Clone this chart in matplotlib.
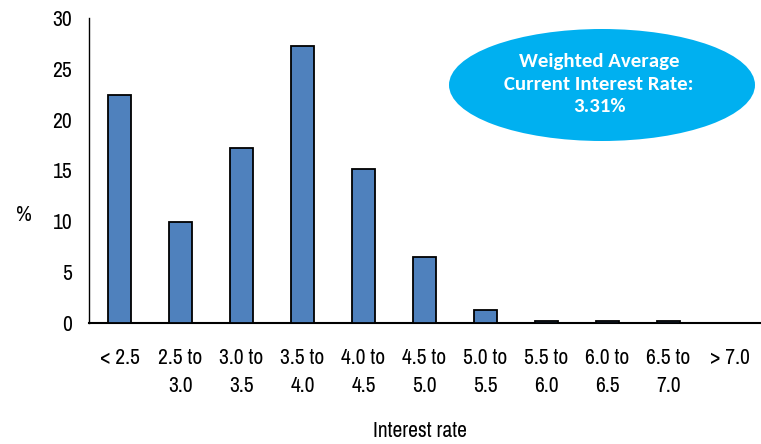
import matplotlib
matplotlib.use("Agg")
import matplotlib.pyplot as plt
from matplotlib.patches import Ellipse

categories = ["< 2.5", "2.5 to\n3.0", "3.0 to\n3.5", "3.5 to\n4.0", "4.0 to\n4.5",
              "4.5 to\n5.0", "5.0 to\n5.5", "5.5 to\n6.0", "6.0 to\n6.5", "6.5 to\n7.0", "> 7.0"]
shares = [22.4, 9.9, 17.2, 27.2, 15.1, 6.5, 1.3, 0.2, 0.2, 0.2, 0.0]
yticks = [0, 5, 10, 15, 20, 25, 30]
callout_lines = ["Weighted Average", "Current Interest Rate:", "3.31%"]

narrow = ["Archivo Narrow", "Liberation Sans"]
callout_font = ["Carlito", "Open Sans"]

fig = plt.figure(figsize=(7.61, 4.44), dpi=100)
ax = fig.add_axes([89 / 761, (444 - 323) / 444, (760 - 89) / 761, (323 - 18) / 444])

x = range(len(categories))
ax.bar(x, shares, width=0.38, color="#4F81BD", edgecolor="black", linewidth=1.3, zorder=3)

ax.set_xlim(-0.5, len(categories) - 0.5)
ax.set_ylim(0, 30)
ax.set_yticks(yticks)
ax.set_yticklabels([str(v) for v in yticks], fontfamily=narrow, fontsize=15.5)
ax.set_xticks(list(x))
ax.set_xticklabels(categories, fontfamily=narrow, fontsize=15.5, linespacing=1.5)
ax.tick_params(axis="both", length=0)
ax.tick_params(axis="x", pad=18)
ax.tick_params(axis="y", pad=12)

for side in ("top", "right"):
    ax.spines[side].set_visible(False)
ax.spines["left"].set_linewidth(1.0)
ax.spines["bottom"].set_linewidth(1.5)

fig.text(24 / 761, 1 - 215 / 444, "%", fontfamily=narrow, fontsize=15.5, ha="center", va="center")
fig.text(420 / 761, 1 - 431 / 444, "Interest rate", fontfamily=narrow, fontsize=15.5,
         ha="center", va="center")

# Callout bubble with the weighted average rate
ell = Ellipse((602 / 761, 1 - 85 / 444), 306 / 761, 112 / 444, transform=fig.transFigure,
              facecolor="#00B0F0", edgecolor="none", zorder=5)
fig.patches.append(ell)
fig.text(599 / 761, 1 - 84 / 444, "\n".join(callout_lines), fontfamily=callout_font,
         fontweight="bold", fontsize=15, color="white", ha="center", va="center",
         linespacing=1.4, zorder=6)

fig.savefig("out.png", dpi=100)
